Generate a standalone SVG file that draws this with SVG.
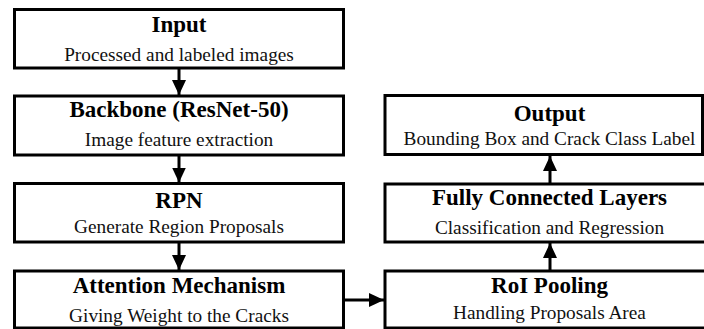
<svg xmlns="http://www.w3.org/2000/svg" width="704" height="329" viewBox="0 0 704 329">
<style>
.box{fill:#fff;stroke:#000;stroke-width:3}
.t{font-family:"Liberation Serif","Times New Roman",serif;font-weight:bold;font-size:23px;text-anchor:middle;fill:#000}
.s{font-family:"Liberation Serif","Times New Roman",serif;font-size:19.3px;text-anchor:middle;fill:#111}
.c{stroke:#000;stroke-width:3;fill:none}
</style>
<defs>
<marker id="ah" markerUnits="userSpaceOnUse" markerWidth="16" markerHeight="16" viewBox="0 0 16 16" refX="15" refY="8" orient="auto">
<polygon points="0,1 15,8 0,15" fill="#000"/>
</marker>
</defs>
<rect width="704" height="329" fill="#fff"/>
<g id="input">
<rect class="box" x="14.5" y="9.5" width="329" height="58.5"/>
<text class="t" x="179" y="32">Input</text>
<text class="s" x="179" y="60.5">Processed and labeled images</text>
</g>
<g id="backbone">
<rect class="box" x="14.5" y="96" width="329" height="59"/>
<text class="t" x="179" y="117">Backbone (ResNet-50)</text>
<text class="s" x="179" y="145.5">Image feature extraction</text>
</g>
<g id="rpn">
<rect class="box" x="14.5" y="183.5" width="329" height="58.5"/>
<text class="t" x="179" y="208">RPN</text>
<text class="s" x="179" y="233">Generate Region Proposals</text>
</g>
<g id="attention">
<rect class="box" x="14.5" y="271" width="329" height="57"/>
<text class="t" x="179" y="293">Attention Mechanism</text>
<text class="s" x="179" y="321.5">Giving Weight to the Cracks</text>
</g>
<g id="output">
<rect class="box" x="385" y="95.5" width="317.5" height="59"/>
<text class="t" x="549.5" y="120.5">Output</text>
<text class="s" x="549.5" y="145">Bounding Box and Crack Class Label</text>
</g>
<g id="fc">
<rect class="box" x="385" y="184" width="330" height="58"/>
<text class="t" x="549.5" y="205">Fully Connected Layers</text>
<text class="s" x="549.5" y="234">Classification and Regression</text>
</g>
<g id="roi">
<rect class="box" x="385" y="271" width="330" height="57"/>
<text class="t" x="549.5" y="293">RoI Pooling</text>
<text class="s" x="549.5" y="318.5">Handling Proposals Area</text>
</g>
<g id="connectors">
<line class="c" x1="179" y1="68" x2="179" y2="95" marker-end="url(#ah)"/>
<line class="c" x1="179" y1="155" x2="179" y2="182.5" marker-end="url(#ah)"/>
<line class="c" x1="179" y1="242" x2="179" y2="270" marker-end="url(#ah)"/>
<line class="c" x1="343.5" y1="300" x2="384" y2="300" marker-end="url(#ah)"/>
<line class="c" x1="550" y1="271" x2="550" y2="243" marker-end="url(#ah)"/>
<line class="c" x1="550" y1="184" x2="550" y2="156" marker-end="url(#ah)"/>
</g>
</svg>
